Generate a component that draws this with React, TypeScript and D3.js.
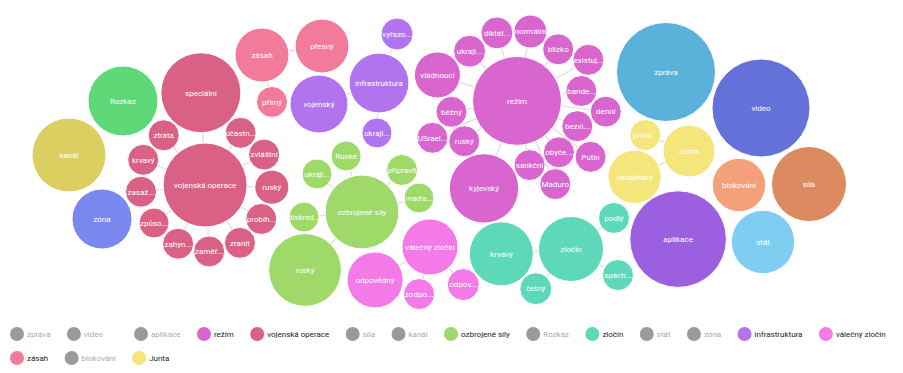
import React, { useEffect, useRef } from "react";
import * as d3 from "d3";

// ---------- DATA ----------
const clusterNames = ["zpráva", "video", "aplikace", "režim", "vojenská operace", "síla", "kanál", "ozbrojené síly", "Rozkaz", "zločin", "stát", "zóna", "infrastruktura", "válečný zločin", "zásah", "blokování", "Junta"];
const clusterValues = [980, 960, 933, 792, 706, 563, 548, 545, 490, 423, 402, 360, 358, 314, 292, 285, 270];
const clusterColors = ["#5ab1da", "#6471d9", "#9c5fe0", "#d966cf", "#da6186", "#dc8a60", "#dccf62", "#9ed96a", "#5fd978", "#5dd9b9", "#7fcef2", "#7b88f0", "#b273ee", "#f47be7", "#f27b9c", "#f4a07a", "#f5e67c"];

// words linked to a cluster keyword: parent index, label, value
const childParent = [
  4, 4, 4, 4, 4, 4, 4, 4, 4, 4, 4, 4,
  14, 14,
  12, 12, 12,
  7, 7, 7, 7, 7, 7,
  13, 13, 13,
  9, 9, 9, 9,
  3, 3, 3, 3, 3, 3, 3, 3, 3, 3, 3, 3, 3, 3, 3, 3, 3,
  16, 16,
];
const childLabels = [
  "speciální", "ztráta", "účastn...", "zvláštní", "ruský", "probíh...", "zranit", "zaměř...", "zahyn...", "způso...", "zasaž...", "krvavý",
  "přesný", "přímý",
  "vyřazo...", "vojenský", "ukraji...",
  "Ruské", "ukraji...", "připravit", "maďa...", "diskred...", "ruský",
  "odpovědný", "zodpo...", "odpov...",
  "krvavý", "četný", "podlý", "spách...",
  "kyjevský", "vládnoucí", "ukraji...", "diktát...", "normální", "blízko", "existuj...", "bande...", "denní", "bezvi...", "obyče...", "Putin", "Maduro", "sankční", "ruský", "běžný", "USrael...",
  "protil...", "ukrajinský",
];
const childValues = [
  640, 96, 96, 96, 116, 96, 96, 96, 96, 90, 96, 96,
  290, 96,
  102, 336, 90,
  90, 90, 96, 90, 90, 530,
  314, 96, 102,
  410, 102, 96, 96,
  482, 212, 102, 102, 109, 96, 96, 96, 96, 96, 96, 96, 96, 96, 96, 96, 96,
  96, 284,
];

// ---------- LAYOUT HINTS (force-simulation seeds) ----------
const clusterSeeds: [number, number][] = [
  [666, 72], [761, 108], [678, 239], [517, 101], [205, 185], [809, 184], [69, 155], [362, 212], [123, 101], [571, 249], [763, 242], [102, 219], [379, 83], [430, 247], [262, 55], [739, 185], [689, 151],
];
// seed angle (deg) and link length of each child around its parent
const childAngles = [
  -92.5, -129.4, -55.3, -27.3, 1.7, 30.5, 58.4, 85.7, 113.8, 143.3, 174.6, -156.9,
  -8.5, 78,
  -69.8, 160.7, 92.3,
  -105.9, -139.8, -46.4, -13.8, 175, 134.5,
  149, 103, 47.4,
  177.5, 134.2, -35.8, 29,
  110.2, -162, -134.4, -106.9, -80, -53, -30.7, -9.6, 7.2, 24.2, 52.4, 37.9, 65.4, 79.5, 142.3, 169.5, 156.2,
  -161.2, 154.3,
];
const childDists = [
  92, 64.7, 63.2, 65.3, 66, 65, 66.9, 66.2, 64.5, 63.6, 64.3, 66.3,
  60.7, 48,
  52.2, 63.6, 50,
  58.2, 58.9, 58, 58.7, 58.2, 81.3,
  64, 48.3, 50.2,
  70, 53, 53, 53.7,
  92.7, 81, 68.6, 69, 69, 66.4, 80.3, 66, 87.7, 65.8, 65.6, 91.2, 91.3, 66, 67, 66, 91.8,
  46.5, 60,
];

const W = 903;
const H = 373;
const FONT = "Roboto, 'Noto Sans', sans-serif";

type N = d3.SimulationNodeDatum & { id: number; label: string; r: number; color: string; tx: number; ty: number };

export default function App() {
  const ref = useRef<SVGSVGElement>(null);

  useEffect(() => {
    const svg = d3.select(ref.current);
    svg.selectAll("*").remove();

    const rScale = d3.scaleSqrt().domain([0, 1000]).range([0, 50]);

    const nodes: N[] = clusterNames.map((name, i) => ({
      id: i,
      label: name,
      r: rScale(clusterValues[i]),
      color: clusterColors[i],
      x: clusterSeeds[i][0],
      y: clusterSeeds[i][1],
      tx: clusterSeeds[i][0],
      ty: clusterSeeds[i][1],
    }));
    const links: { source: number; target: number; dist: number }[] = [];
    childLabels.forEach((label, j) => {
      const p = nodes[childParent[j]];
      const a = (childAngles[j] * Math.PI) / 180;
      const x = (p.x as number) + Math.cos(a) * childDists[j];
      const y = (p.y as number) + Math.sin(a) * childDists[j];
      const id = nodes.length;
      nodes.push({ id, label, r: rScale(childValues[j]), color: p.color, x, y, tx: x, ty: y });
      links.push({ source: p.id, target: id, dist: childDists[j] });
    });

    const sim = d3
      .forceSimulation(nodes)
      .force("link", d3.forceLink(links).id((d: any) => d.id).distance((l: any) => l.dist).strength(0.3))
      .force("collide", d3.forceCollide((d: any) => d.r + 0.5).iterations(2))
      .force("x", d3.forceX((d: any) => d.tx).strength(0.4))
      .force("y", d3.forceY((d: any) => d.ty).strength(0.4))
      .stop();
    for (let i = 0; i < 200; i++) sim.tick();

    const g = svg.append("g");
    g.selectAll("line")
      .data(links as any[])
      .join("line")
      .attr("x1", (d: any) => d.source.x)
      .attr("y1", (d: any) => d.source.y)
      .attr("x2", (d: any) => d.target.x)
      .attr("y2", (d: any) => d.target.y)
      .attr("stroke", "#e3e3e3")
      .attr("stroke-width", 1.5);

    const node = g.selectAll("g.node").data(nodes).join("g").attr("class", "node").attr("transform", (d) => `translate(${d.x},${d.y})`);
    node.append("circle").attr("r", (d) => d.r).attr("fill", (d) => d.color).attr("stroke", "#fff").attr("stroke-width", 1);
    node
      .append("text")
      .attr("text-anchor", "middle")
      .attr("dy", "0.35em")
      .attr("fill", "#fff")
      .attr("font-family", FONT)
      .attr("font-size", 8)
      .text((d) => d.label);

    // legend
    const active = clusterNames.map((_, i) => childParent.includes(i));
    const canvas = document.createElement("canvas");
    const ctx = canvas.getContext("2d")!;
    ctx.font = `8px ${FONT}`;
    const lg = svg.append("g");
    let x0 = 10;
    let row = 0;
    clusterNames.forEach((name, i) => {
      const tw = ctx.measureText(name).width;
      const iw = 17 + tw;
      if (x0 + iw > W - 10) {
        row += 1;
        x0 = 10;
      }
      const cy = 334 + row * 24;
      const it = lg.append("g");
      it.append("circle").attr("cx", x0 + 7).attr("cy", cy).attr("r", 7).attr("fill", active[i] ? clusterColors[i] : "#9a9a9a");
      it.append("text")
        .attr("x", x0 + 17)
        .attr("y", cy)
        .attr("dy", "0.35em")
        .attr("font-family", FONT)
        .attr("font-size", 8)
        .attr("fill", active[i] ? "#222" : "#aaa")
        .text(name);
      x0 += iw + (name === "video" ? 31 : 16.4);
    });
  }, []);

  return <svg ref={ref} width={W} height={H} style={{ position: "absolute", left: 0, top: 0, background: "#fff" }} />;
}
